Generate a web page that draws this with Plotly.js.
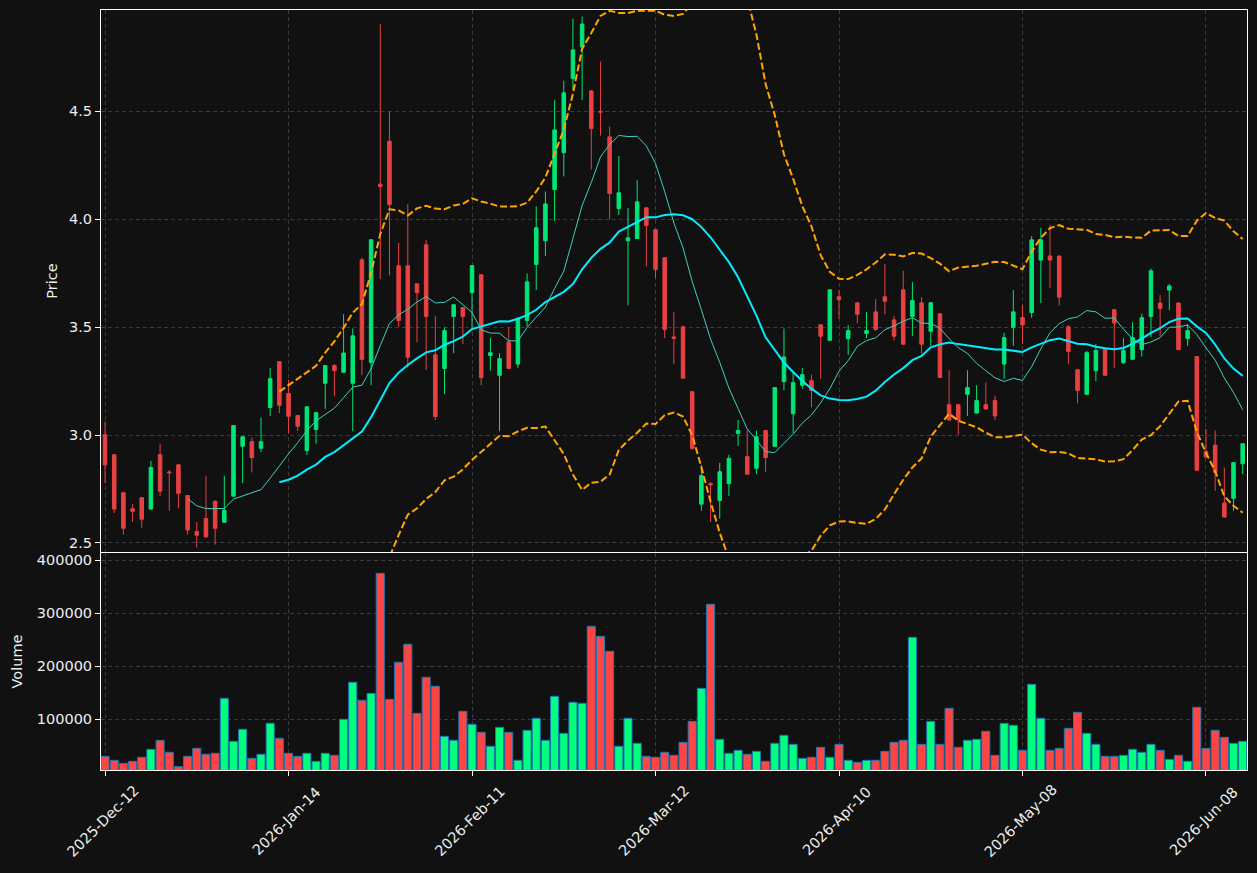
<!DOCTYPE html>
<html>
<head>
<meta charset="utf-8">
<script src="https://cdn.plot.ly/plotly-3.0.1.min.js"></script>
<style>html,body{margin:0;padding:0;background:#111111;}#chart{width:1257px;height:873px;}</style>
</head>
<body>
<div id="chart"></div>
<script>
// ---- data (one entry per trading bar) ----
const openP = [3.002,2.909,2.733,2.659,2.710,2.657,2.909,2.829,2.862,2.720,
2.553,2.613,2.693,2.596,2.717,2.948,2.969,2.939,3.128,3.340,
3.193,3.091,2.929,3.026,3.240,3.322,3.291,3.240,3.812,3.337,
4.163,4.362,3.785,3.785,3.701,3.882,3.372,3.309,3.550,3.591,
3.660,3.743,3.369,3.277,3.432,3.329,3.531,3.791,3.901,4.138,
4.309,4.652,4.799,4.595,4.500,4.382,4.050,3.901,3.911,4.053,
3.952,3.822,3.455,3.502,3.201,2.680,2.775,2.697,2.775,3.008,
2.900,2.846,3.021,2.948,3.248,3.099,3.231,3.252,3.511,3.439,
3.641,3.447,3.613,3.471,3.571,3.641,3.534,3.673,3.550,3.613,
3.481,3.562,3.141,3.141,3.189,3.102,3.141,3.160,3.329,3.498,
3.545,3.568,3.811,3.830,3.830,3.502,3.303,3.189,3.299,3.401,
3.581,3.335,3.351,3.396,3.550,3.612,3.672,3.612,3.448,3.364,
2.924,2.953,2.685,2.707,2.867];
const highP = [3.062,2.912,2.736,2.681,2.713,2.880,2.960,2.838,2.865,2.722,
2.597,2.811,2.697,2.811,3.046,2.994,2.989,3.081,3.312,3.342,
3.256,3.093,3.133,3.106,3.324,3.329,3.560,3.494,3.822,3.907,
4.905,4.500,3.890,4.070,3.703,3.905,3.552,3.500,3.606,3.593,
3.787,3.745,3.450,3.380,3.498,3.544,3.749,4.060,4.129,4.552,
4.642,4.930,4.940,4.600,4.731,4.429,4.293,4.052,4.181,4.055,
3.954,3.824,3.570,3.504,3.203,2.862,2.782,2.871,2.908,3.070,
3.023,3.021,3.023,3.222,3.494,3.296,3.312,3.280,3.513,3.675,
3.672,3.510,3.615,3.571,3.631,3.793,3.552,3.761,3.709,3.639,
3.615,3.564,3.301,3.143,3.301,3.231,3.243,3.183,3.474,3.672,
3.602,3.922,3.960,3.973,3.832,3.510,3.305,3.390,3.422,3.403,
3.583,3.450,3.523,3.562,3.772,3.649,3.701,3.614,3.515,3.366,
3.029,3.021,2.849,2.874,2.962];
const lowP = [2.778,2.639,2.539,2.597,2.571,2.655,2.718,2.649,2.660,2.539,
2.479,2.526,2.492,2.594,2.715,2.778,2.827,2.921,3.089,3.102,
3.008,3.018,2.908,2.960,3.121,3.180,3.289,3.018,3.277,3.231,
3.723,3.740,3.502,3.312,3.430,3.301,3.070,3.191,3.380,3.422,
3.490,3.231,3.299,3.018,3.307,3.312,3.503,3.672,3.830,3.992,
4.199,4.599,4.553,4.231,4.388,4.000,4.019,3.602,3.909,3.782,
3.728,3.450,3.329,3.261,2.935,2.649,2.597,2.613,2.718,2.950,
2.817,2.819,2.829,2.946,3.207,3.010,3.215,3.129,3.261,3.437,
3.539,3.372,3.518,3.450,3.482,3.560,3.439,3.419,3.458,3.377,
3.414,3.265,3.068,3.002,3.089,3.100,3.119,3.070,3.261,3.414,
3.422,3.544,3.612,3.681,3.600,3.329,3.147,3.187,3.251,3.275,
3.312,3.329,3.349,3.364,3.453,3.458,3.578,3.394,3.413,2.835,
2.896,2.741,2.618,2.649,2.819];
const closeP = [2.862,2.657,2.568,2.647,2.610,2.850,2.740,2.825,2.730,2.560,
2.536,2.528,2.568,2.651,3.044,2.992,2.896,2.969,3.261,3.138,
3.087,3.041,3.131,3.104,3.322,3.299,3.380,3.460,3.351,3.905,
4.152,4.068,3.531,3.361,3.660,3.550,3.086,3.484,3.604,3.550,
3.785,3.267,3.382,3.354,3.309,3.542,3.710,3.961,4.071,4.414,
4.586,4.785,4.905,4.421,4.497,4.120,4.123,3.914,4.081,3.971,
3.767,3.490,3.448,3.264,2.937,2.812,2.769,2.830,2.892,3.021,
2.819,2.992,2.896,3.220,3.362,3.243,3.280,3.207,3.458,3.673,
3.628,3.484,3.560,3.484,3.490,3.620,3.458,3.421,3.623,3.421,
3.613,3.267,3.070,3.070,3.220,3.160,3.121,3.089,3.452,3.571,
3.510,3.905,3.905,3.811,3.639,3.388,3.207,3.382,3.392,3.277,
3.519,3.392,3.452,3.544,3.761,3.587,3.691,3.396,3.484,2.837,
2.898,2.827,2.620,2.872,2.960];
const volume = [30200,22700,17000,20800,28300,43400,60400,37800,10700,30200,
45300,34000,35900,139600,58500,81200,26400,34000,92500,64200,
35900,30200,35900,20800,35900,32100,100000,169800,135900,149100,
375500,137700,207600,241500,111300,179300,162300,67900,60400,115100,
90600,75500,49100,84900,75500,22700,79300,101900,60400,143400,
73600,132100,130200,275500,256600,228300,49100,101900,54700,30200,
28300,37800,32100,56600,96200,158500,317000,62300,35900,41500,
34000,39600,20800,54700,69800,52800,26400,28300,47200,28300,
52800,22700,18900,22700,22700,39600,56600,60400,254700,52800,
96200,52800,120800,47200,60400,62300,77400,32100,92500,88700,
41500,166000,101900,41500,45300,83000,113200,73600,52800,30200,
30200,32100,43400,37800,52800,41500,24500,32100,20800,122700,
45300,79300,66100,54700,58500];
const tickIdx = [0,20,40,60,80,100,120];
const tickLabels = ['2025-Dec-12','2026-Jan-14','2026-Feb-11','2026-Mar-12','2026-Apr-10','2026-May-08','2026-Jun-08'];

// ---- indicators derived from the closes ----
const idx = closeP.map((_, i) => i);
function sma(arr, n) {
  return arr.map((_, i) => {
    if (i < n - 1) return null;
    let s = 0; for (let k = i - n + 1; k <= i; k++) s += arr[k];
    return s / n;
  });
}
function band(arr, n, mult) {
  const m = sma(arr, n);
  return arr.map((_, i) => {
    if (m[i] === null) return null;
    let v = 0; for (let k = i - n + 1; k <= i; k++) v += (arr[k] - m[i]) ** 2;
    return m[i] + mult * Math.sqrt(v / n);
  });
}
const ma10 = sma(closeP, 10);
const ma20 = sma(closeP, 20);
const bbUp = band(closeP, 20, 2);
const bbLo = band(closeP, 20, -2);

const UP = '#00e676', DN = '#e84142';
const VUP = '#00ff7f', VDN = '#ff4444';
const volColors = closeP.map((c, i) => c >= openP[i] ? VUP : VDN);

const font = {family: 'DejaVu Sans', size: 14.5, color: '#eeeeee'};
const traces = [
  {type: 'candlestick', x: idx, open: openP, high: highP, low: lowP, close: closeP,
   xaxis: 'x', yaxis: 'y', whiskerwidth: 0, hoverinfo: 'skip',
   increasing: {line: {color: UP, width: 1}, fillcolor: UP},
   decreasing: {line: {color: DN, width: 1}, fillcolor: DN}},
  {type: 'scatter', mode: 'lines', x: idx, y: ma10, xaxis: 'x', yaxis: 'y',
   line: {color: '#40d0c0', width: 1}, hoverinfo: 'skip'},
  {type: 'scatter', mode: 'lines', x: idx, y: ma20, xaxis: 'x', yaxis: 'y',
   line: {color: '#00eeff', width: 2}, hoverinfo: 'skip'},
  {type: 'scatter', mode: 'lines', x: idx, y: bbUp, xaxis: 'x', yaxis: 'y',
   line: {color: '#ffa500', width: 2, dash: '7px,3px'}, hoverinfo: 'skip'},
  {type: 'scatter', mode: 'lines', x: idx, y: bbLo, xaxis: 'x', yaxis: 'y',
   line: {color: '#ffa500', width: 2, dash: '7px,3px'}, hoverinfo: 'skip'},
  {type: 'bar', x: idx, y: volume, xaxis: 'x2', yaxis: 'y2', width: 0.88,
   marker: {color: volColors, line: {color: '#1f77b4', width: 1}}, hoverinfo: 'skip'}
];

const xr = [-0.44, 124.47];
const common = {showline: true, linecolor: '#ffffff', linewidth: 1, mirror: true,
  gridcolor: '#3a3a3a', griddash: '4px,3px', gridwidth: 1, zeroline: false,
  tickfont: font, ticks: 'outside', tickcolor: '#ffffff', ticklen: 5};

// rotated date labels centred on their ticks (as in the reference)
const dateAnnotations = tickIdx.map((v, i) => ({
  x: v, xref: 'x2', y: -0.0671, yref: 'paper', text: tickLabels[i],
  textangle: -45, showarrow: false, xanchor: 'center', yanchor: 'middle',
  xshift: -2, font: font
}));

const layout = {
  width: 1257, height: 873,
  margin: {l: 101, r: 10, t: 10, b: 103},
  paper_bgcolor: '#111111', plot_bgcolor: '#111111',
  font: font, showlegend: false, boxgap: 0.45,
  annotations: dateAnnotations,
  xaxis: Object.assign({}, common, {domain: [0, 1], anchor: 'y', range: xr, matches: 'x2',
    tickmode: 'array', tickvals: tickIdx, ticktext: tickLabels, showticklabels: false, ticks: '',
    rangeslider: {visible: false}}),
  yaxis: Object.assign({}, common, {domain: [0.2868, 1], anchor: 'x', range: [2.458, 4.970],
    tickmode: 'linear', tick0: 2.5, dtick: 0.5, tickformat: '.1f',
    title: {text: 'Price', font: font, standoff: 7}}),
  xaxis2: Object.assign({}, common, {domain: [0, 1], anchor: 'y2', range: xr,
    tickmode: 'array', tickvals: tickIdx, ticktext: tickLabels, showticklabels: false}),
  yaxis2: Object.assign({}, common, {domain: [0, 0.2855], anchor: 'x2', range: [4400, 413800],
    tickmode: 'array', tickvals: [100000, 200000, 300000, 400000], tickformat: 'd',
    title: {text: 'Volume', font: font, standoff: 10}})
};

Plotly.newPlot('chart', traces, layout, {staticPlot: true, displayModeBar: false});
</script>
</body>
</html>
